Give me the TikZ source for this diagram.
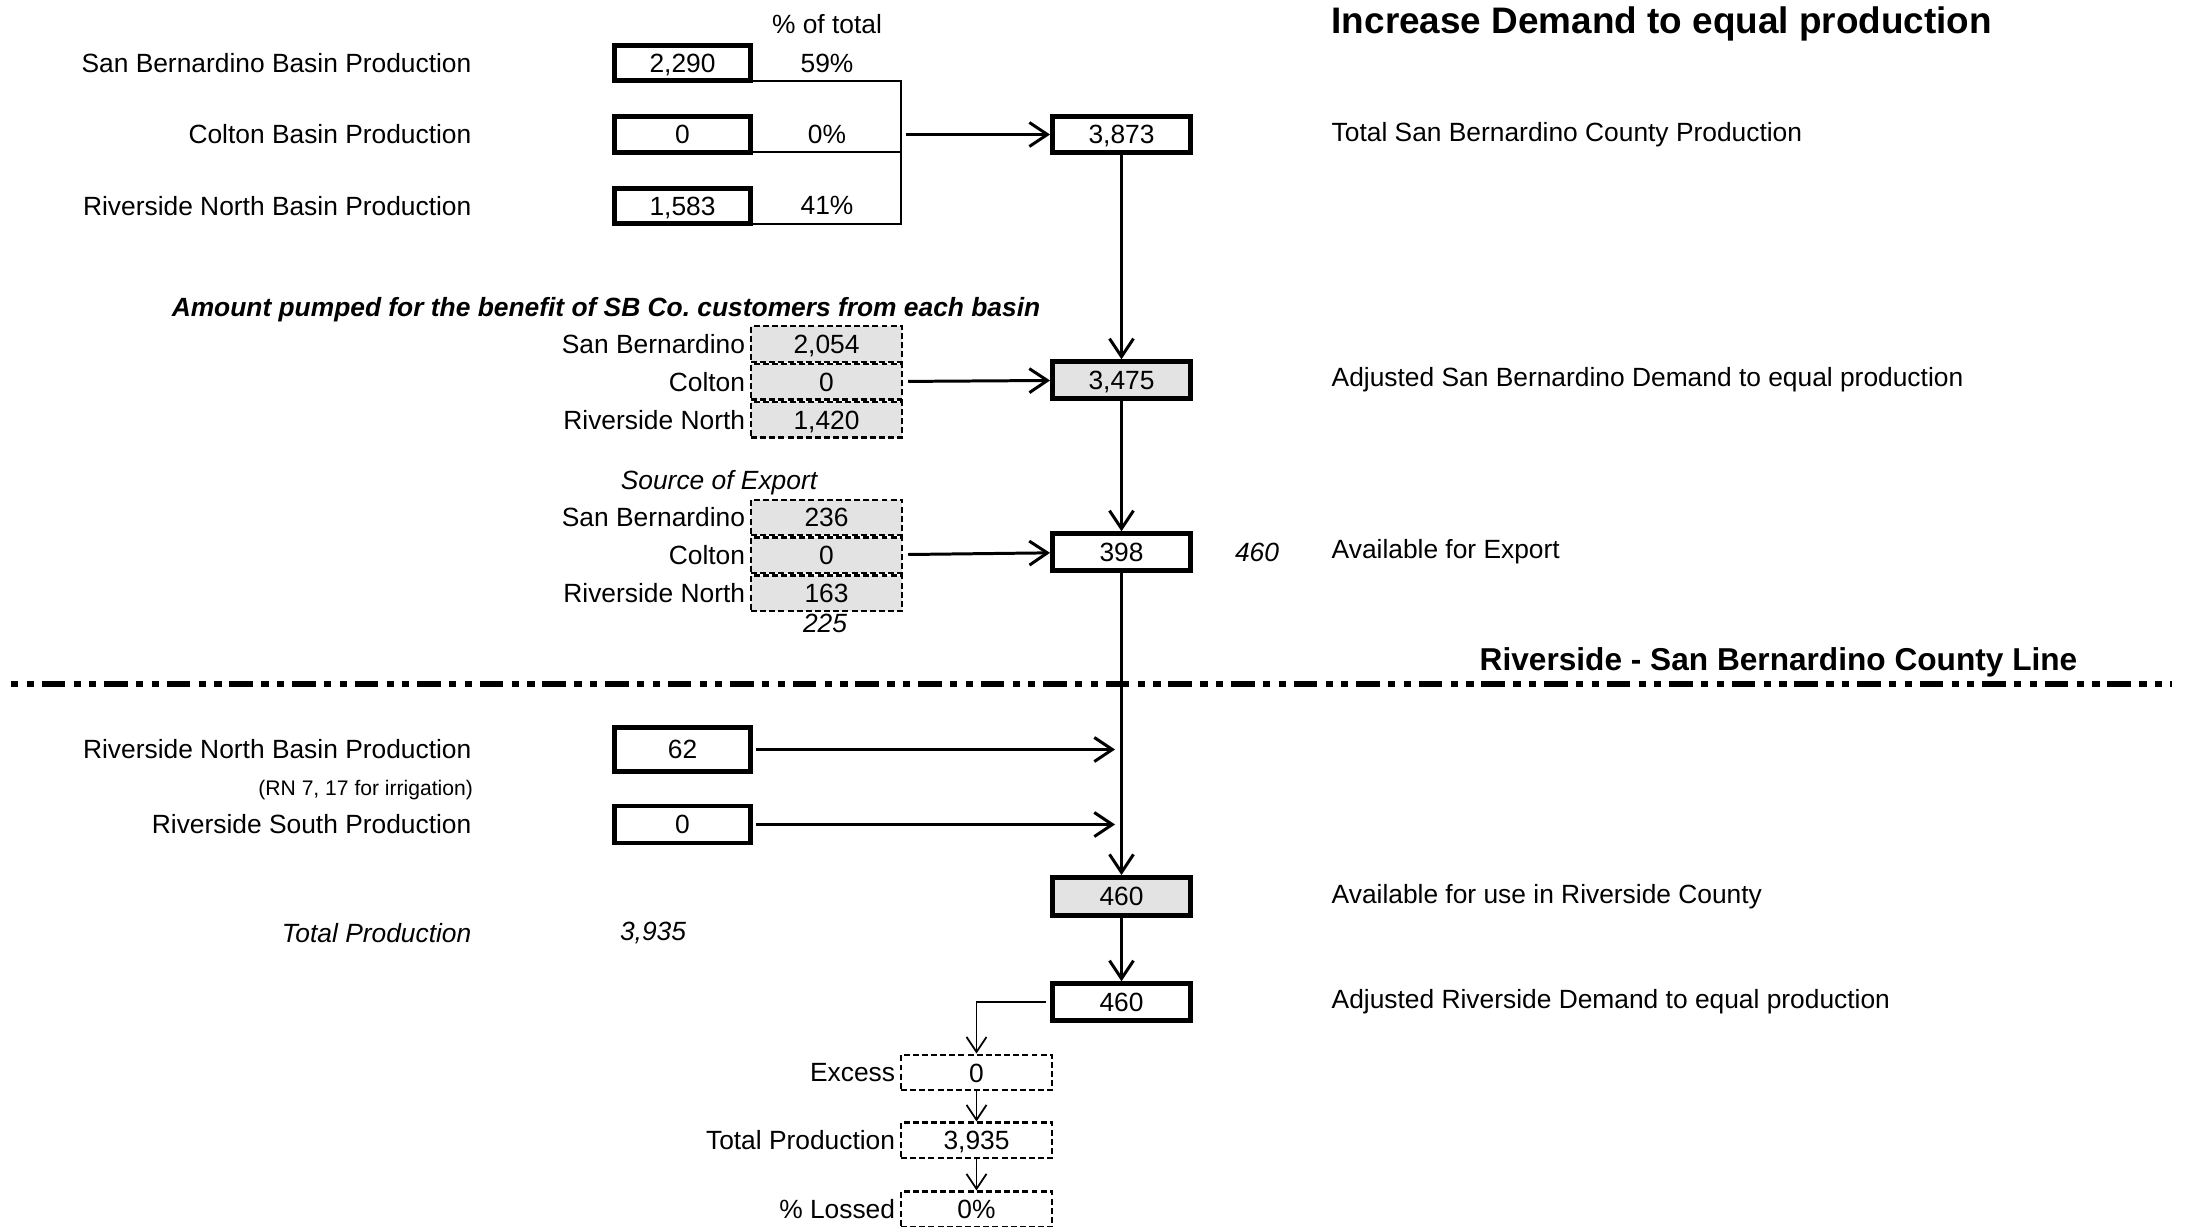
\documentclass[tikz,border=0pt]{standalone}
\usepackage{fontspec}
\setmainfont{Liberation Sans}
\usepackage{tikz}
\usetikzlibrary{arrows.meta, positioning}

\begin{document}
\begin{tikzpicture}[
    node distance=0.31cm and 1.4cm,
    every node/.style={font=\fontsize{7.5}{9}\selectfont},
    thickbox/.style={rectangle, draw, line width=1.4pt, minimum width=1.36cm, minimum height=0.355cm, inner sep=0pt, text height=5.4pt, text depth=0pt},
    sumbox/.style={thickbox, minimum width=1.38cm, minimum height=0.365cm},
    graybox/.style={sumbox, fill=black!11},
    dashbox/.style={rectangle, draw, line width=0.7pt, dash pattern=on 1.7pt off 0.9pt, minimum width=1.51cm, minimum height=0.355cm, inner sep=0pt, text height=5.4pt, text depth=0pt},
    shadebox/.style={dashbox, fill=black!11},
    lbl/.style={inner sep=0pt},
    note/.style={inner sep=0pt, font=\fontsize{7.5}{9}\selectfont\itshape},
    arrow/.style={-{Straight Barb[length=1.8mm,width=2.4mm]}, line width=0.85pt},
    thinarrow/.style={-{Straight Barb[length=1.5mm,width=2mm]}, line width=0.5pt}
]
\useasboundingbox (0,0) rectangle (21.97,-12.27);

% Title
\node[anchor=west, inner sep=0pt, font=\fontsize{10.5}{12}\selectfont\bfseries] (title) at (13.31,-0.24) {Increase Demand to equal production};

% San Bernardino County basins
\node[thickbox] (sbbox) at (6.825,-0.63) {2,290};
\node[thickbox, below=of sbbox] (cbox) {0};
\node[thickbox, below=of cbox] (rnbox) {1,583};
\node[lbl, left=of sbbox] (sblbl) {San Bernardino Basin Production};
\node[lbl, left=of cbox] (clbl) {Colton Basin Production};
\node[lbl, left=of rnbox] (rnlbl) {Riverside North Basin Production};

\node[lbl] (pcthead) at (8.27,-0.24) {\% of total};
\node (sbpct) at (sbbox -| pcthead) {59\%};
\node (cpct) at (cbox -| pcthead) {0\%};
\node (rnpct) at (rnbox -| pcthead) {41\%};

\coordinate (brk) at (9.01,0);
\draw[line width=0.6pt] ([yshift=0.7pt]sbbox.south east) -- ([yshift=0.7pt]sbbox.south east -| brk) -- ([yshift=0.7pt]rnbox.south east -| brk) -- ([yshift=0.7pt]rnbox.south east);
\draw[line width=0.6pt] ([yshift=0.7pt]cbox.south east) -- ([yshift=0.7pt]cbox.south east -| brk);

\node[sumbox] (sbtotal) at (11.215,-1.345) {3,873};
\coordinate (brkout) at (9.06,-1.345);
\draw[arrow] (brkout) -- (sbtotal);

% Pumped for SB Co. customers
\node[inner sep=0pt, font=\fontsize{7.5}{9}\selectfont\bfseries\itshape] (benefit) at (6.06,-3.097) {Amount pumped for the benefit of SB Co.\ customers from each basin};
\node[shadebox] (bsb) at (8.265,-3.44) {2,054};
\node[shadebox, below=0pt of bsb] (bco) {0};
\node[shadebox, below=0pt of bco] (brn) {1,420};
\node[lbl, left=0.04cm of bsb] {San Bernardino};
\node[lbl, left=0.04cm of bco] {Colton};
\node[lbl, left=0.04cm of brn] {Riverside North};

\node[graybox] (sbadj) at (11.215,-3.80) {3,475};
\draw[arrow, shorten <=0.05cm] (bco) -- (sbadj);
\draw[arrow] (sbtotal) -- (sbadj);

% Source of export
\node[note] (srchead) at (7.19,-4.83) {Source of Export};
\node[shadebox] (esb) at (8.265,-5.175) {236};
\node[shadebox, below=0pt of esb] (eco) {0};
\node[shadebox, below=0pt of eco] (ern) {163};
\node[lbl, left=0.04cm of esb] {San Bernardino};
\node[lbl, left=0.04cm of eco] {Colton};
\node[lbl, left=0.04cm of ern] {Riverside North};
\node[note] (esum) at (8.25,-6.235) {225};

\node[sumbox] (export) at (11.215,-5.52) {398};
\node[note] (expnote) at (12.57,-5.52) {460};
\draw[arrow, shorten <=0.05cm] (eco) -- (export);
\draw[arrow] (sbadj) -- (export);

% Right hand labels
\node[lbl, anchor=west] at (sbtotal -| title.west) {Total San Bernardino County Production};
\node[lbl, anchor=west] at (sbadj -| title.west) {Adjusted San Bernardino Demand to equal production};
\node[lbl, anchor=west] at (export -| title.west) {Available for Export};

% County line
\node[anchor=east, inner sep=0pt, font=\fontsize{9}{11}\selectfont\bfseries] (county) at (20.78,-6.62) {Riverside - San Bernardino County Line};
\draw[line width=1.7pt, dash pattern=on 0.073cm off 0.083cm on 0.073cm off 0.077cm on 0.237cm off 0.083cm] (0.11,-6.837) -- (21.72,-6.837);

% Riverside County
\node[thickbox, minimum height=0.44cm] (rnprod) at (6.825,-7.495) {62};
\node[thickbox, minimum height=0.37cm] (rsprod) at (6.825,-8.245) {0};
\node[lbl, left=of rnprod] {Riverside North Basin Production};
\node[lbl, anchor=east, font=\fontsize{6}{7}\selectfont] (rnnote) at (4.736,-7.90) {(RN 7, 17 for irrigation)};
\node[lbl, left=of rsprod] {Riverside South Production};

\node[graybox, minimum height=0.38cm] (rvavail) at (11.215,-8.965) {460};
\coordinate (join) at (11.15,0);
\draw[arrow, shorten <=0.03cm] (rnprod.east) -- (rnprod.east -| join);
\draw[arrow, shorten <=0.03cm] (rsprod.east) -- (rsprod.east -| join);
\draw[arrow] (export) -- (rvavail);

\node[note, anchor=east] (totlbl) at (4.72,-9.33) {Total Production};
\node[note] (totval) at (6.53,-9.33) {3,935};

\node[sumbox] (rvadj) at (11.215,-10.02) {460};
\draw[arrow] (rvavail) -- (rvadj);
\node[lbl, anchor=west] at (rvavail -| title.west) {Available for use in Riverside County};
\node[lbl, anchor=west] at (rvadj -| title.west) {Adjusted Riverside Demand to equal production};

% Excess and losses
\node[dashbox] (excess) at (9.765,-10.725) {0};
\node[dashbox, below=0.30cm of excess] (totprod) {3,935};
\node[dashbox, below=0.31cm of totprod] (lossed) {0\%};
\node[lbl, left=0.04cm of excess] {Excess};
\node[lbl, left=0.04cm of totprod] {Total Production};
\node[lbl, left=0.04cm of lossed] {\% Lossed};
\draw[thinarrow, shorten <=0.04cm] (rvadj.west) -| (excess.north);
\draw[thinarrow] (excess) -- (totprod);
\draw[thinarrow] (totprod) -- (lossed);

\end{tikzpicture}
\end{document}
